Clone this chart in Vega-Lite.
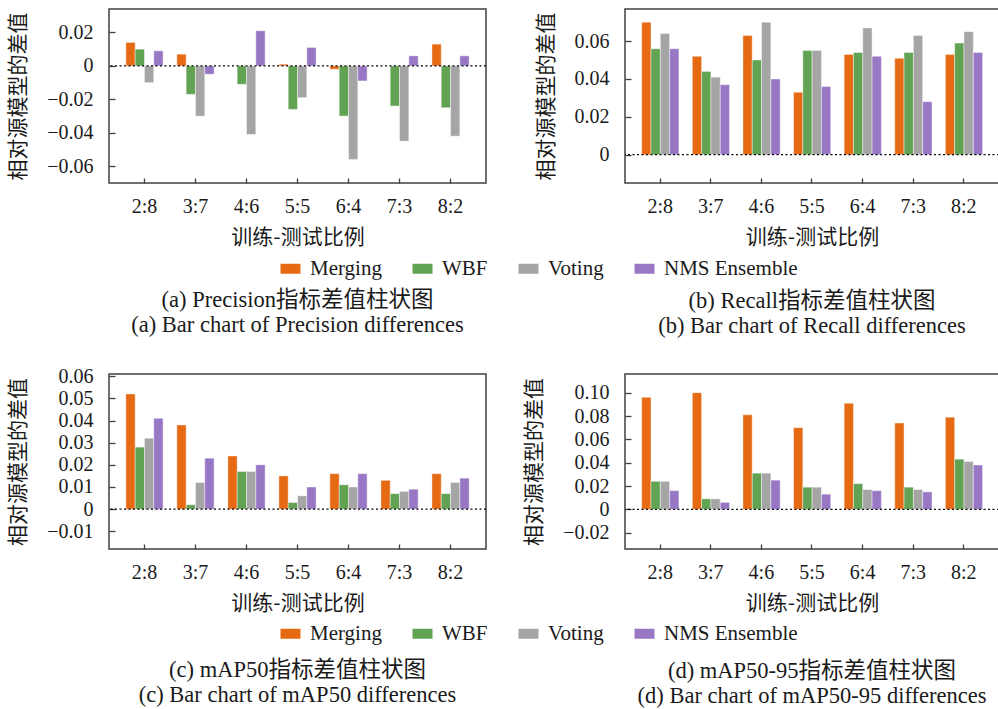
{
  "$schema": "https://vega.github.io/schema/vega-lite/v6.json",
  "padding": {"left": 6, "top": 8, "right": 2, "bottom": 2},
  "datasets": {
    "d": [
      {"metric": "Precision", "ratio": "2:8", "method": "Merging", "value": 0.014},
      {"metric": "Precision", "ratio": "2:8", "method": "WBF", "value": 0.010},
      {"metric": "Precision", "ratio": "2:8", "method": "Voting", "value": -0.010},
      {"metric": "Precision", "ratio": "2:8", "method": "NMS Ensemble", "value": 0.009},
      {"metric": "Precision", "ratio": "3:7", "method": "Merging", "value": 0.007},
      {"metric": "Precision", "ratio": "3:7", "method": "WBF", "value": -0.017},
      {"metric": "Precision", "ratio": "3:7", "method": "Voting", "value": -0.030},
      {"metric": "Precision", "ratio": "3:7", "method": "NMS Ensemble", "value": -0.005},
      {"metric": "Precision", "ratio": "4:6", "method": "Merging", "value": 0.000},
      {"metric": "Precision", "ratio": "4:6", "method": "WBF", "value": -0.011},
      {"metric": "Precision", "ratio": "4:6", "method": "Voting", "value": -0.041},
      {"metric": "Precision", "ratio": "4:6", "method": "NMS Ensemble", "value": 0.021},
      {"metric": "Precision", "ratio": "5:5", "method": "Merging", "value": 0.001},
      {"metric": "Precision", "ratio": "5:5", "method": "WBF", "value": -0.026},
      {"metric": "Precision", "ratio": "5:5", "method": "Voting", "value": -0.019},
      {"metric": "Precision", "ratio": "5:5", "method": "NMS Ensemble", "value": 0.011},
      {"metric": "Precision", "ratio": "6:4", "method": "Merging", "value": -0.002},
      {"metric": "Precision", "ratio": "6:4", "method": "WBF", "value": -0.030},
      {"metric": "Precision", "ratio": "6:4", "method": "Voting", "value": -0.056},
      {"metric": "Precision", "ratio": "6:4", "method": "NMS Ensemble", "value": -0.009},
      {"metric": "Precision", "ratio": "7:3", "method": "Merging", "value": 0.000},
      {"metric": "Precision", "ratio": "7:3", "method": "WBF", "value": -0.024},
      {"metric": "Precision", "ratio": "7:3", "method": "Voting", "value": -0.045},
      {"metric": "Precision", "ratio": "7:3", "method": "NMS Ensemble", "value": 0.006},
      {"metric": "Precision", "ratio": "8:2", "method": "Merging", "value": 0.013},
      {"metric": "Precision", "ratio": "8:2", "method": "WBF", "value": -0.025},
      {"metric": "Precision", "ratio": "8:2", "method": "Voting", "value": -0.042},
      {"metric": "Precision", "ratio": "8:2", "method": "NMS Ensemble", "value": 0.006},

      {"metric": "Recall", "ratio": "2:8", "method": "Merging", "value": 0.070},
      {"metric": "Recall", "ratio": "2:8", "method": "WBF", "value": 0.056},
      {"metric": "Recall", "ratio": "2:8", "method": "Voting", "value": 0.064},
      {"metric": "Recall", "ratio": "2:8", "method": "NMS Ensemble", "value": 0.056},
      {"metric": "Recall", "ratio": "3:7", "method": "Merging", "value": 0.052},
      {"metric": "Recall", "ratio": "3:7", "method": "WBF", "value": 0.044},
      {"metric": "Recall", "ratio": "3:7", "method": "Voting", "value": 0.041},
      {"metric": "Recall", "ratio": "3:7", "method": "NMS Ensemble", "value": 0.037},
      {"metric": "Recall", "ratio": "4:6", "method": "Merging", "value": 0.063},
      {"metric": "Recall", "ratio": "4:6", "method": "WBF", "value": 0.050},
      {"metric": "Recall", "ratio": "4:6", "method": "Voting", "value": 0.070},
      {"metric": "Recall", "ratio": "4:6", "method": "NMS Ensemble", "value": 0.040},
      {"metric": "Recall", "ratio": "5:5", "method": "Merging", "value": 0.033},
      {"metric": "Recall", "ratio": "5:5", "method": "WBF", "value": 0.055},
      {"metric": "Recall", "ratio": "5:5", "method": "Voting", "value": 0.055},
      {"metric": "Recall", "ratio": "5:5", "method": "NMS Ensemble", "value": 0.036},
      {"metric": "Recall", "ratio": "6:4", "method": "Merging", "value": 0.053},
      {"metric": "Recall", "ratio": "6:4", "method": "WBF", "value": 0.054},
      {"metric": "Recall", "ratio": "6:4", "method": "Voting", "value": 0.067},
      {"metric": "Recall", "ratio": "6:4", "method": "NMS Ensemble", "value": 0.052},
      {"metric": "Recall", "ratio": "7:3", "method": "Merging", "value": 0.051},
      {"metric": "Recall", "ratio": "7:3", "method": "WBF", "value": 0.054},
      {"metric": "Recall", "ratio": "7:3", "method": "Voting", "value": 0.063},
      {"metric": "Recall", "ratio": "7:3", "method": "NMS Ensemble", "value": 0.028},
      {"metric": "Recall", "ratio": "8:2", "method": "Merging", "value": 0.053},
      {"metric": "Recall", "ratio": "8:2", "method": "WBF", "value": 0.059},
      {"metric": "Recall", "ratio": "8:2", "method": "Voting", "value": 0.065},
      {"metric": "Recall", "ratio": "8:2", "method": "NMS Ensemble", "value": 0.054},

      {"metric": "mAP50", "ratio": "2:8", "method": "Merging", "value": 0.052},
      {"metric": "mAP50", "ratio": "2:8", "method": "WBF", "value": 0.028},
      {"metric": "mAP50", "ratio": "2:8", "method": "Voting", "value": 0.032},
      {"metric": "mAP50", "ratio": "2:8", "method": "NMS Ensemble", "value": 0.041},
      {"metric": "mAP50", "ratio": "3:7", "method": "Merging", "value": 0.038},
      {"metric": "mAP50", "ratio": "3:7", "method": "WBF", "value": 0.002},
      {"metric": "mAP50", "ratio": "3:7", "method": "Voting", "value": 0.012},
      {"metric": "mAP50", "ratio": "3:7", "method": "NMS Ensemble", "value": 0.023},
      {"metric": "mAP50", "ratio": "4:6", "method": "Merging", "value": 0.024},
      {"metric": "mAP50", "ratio": "4:6", "method": "WBF", "value": 0.017},
      {"metric": "mAP50", "ratio": "4:6", "method": "Voting", "value": 0.017},
      {"metric": "mAP50", "ratio": "4:6", "method": "NMS Ensemble", "value": 0.020},
      {"metric": "mAP50", "ratio": "5:5", "method": "Merging", "value": 0.015},
      {"metric": "mAP50", "ratio": "5:5", "method": "WBF", "value": 0.003},
      {"metric": "mAP50", "ratio": "5:5", "method": "Voting", "value": 0.006},
      {"metric": "mAP50", "ratio": "5:5", "method": "NMS Ensemble", "value": 0.010},
      {"metric": "mAP50", "ratio": "6:4", "method": "Merging", "value": 0.016},
      {"metric": "mAP50", "ratio": "6:4", "method": "WBF", "value": 0.011},
      {"metric": "mAP50", "ratio": "6:4", "method": "Voting", "value": 0.010},
      {"metric": "mAP50", "ratio": "6:4", "method": "NMS Ensemble", "value": 0.016},
      {"metric": "mAP50", "ratio": "7:3", "method": "Merging", "value": 0.013},
      {"metric": "mAP50", "ratio": "7:3", "method": "WBF", "value": 0.007},
      {"metric": "mAP50", "ratio": "7:3", "method": "Voting", "value": 0.008},
      {"metric": "mAP50", "ratio": "7:3", "method": "NMS Ensemble", "value": 0.009},
      {"metric": "mAP50", "ratio": "8:2", "method": "Merging", "value": 0.016},
      {"metric": "mAP50", "ratio": "8:2", "method": "WBF", "value": 0.007},
      {"metric": "mAP50", "ratio": "8:2", "method": "Voting", "value": 0.012},
      {"metric": "mAP50", "ratio": "8:2", "method": "NMS Ensemble", "value": 0.014},

      {"metric": "mAP50-95", "ratio": "2:8", "method": "Merging", "value": 0.096},
      {"metric": "mAP50-95", "ratio": "2:8", "method": "WBF", "value": 0.024},
      {"metric": "mAP50-95", "ratio": "2:8", "method": "Voting", "value": 0.024},
      {"metric": "mAP50-95", "ratio": "2:8", "method": "NMS Ensemble", "value": 0.016},
      {"metric": "mAP50-95", "ratio": "3:7", "method": "Merging", "value": 0.100},
      {"metric": "mAP50-95", "ratio": "3:7", "method": "WBF", "value": 0.009},
      {"metric": "mAP50-95", "ratio": "3:7", "method": "Voting", "value": 0.009},
      {"metric": "mAP50-95", "ratio": "3:7", "method": "NMS Ensemble", "value": 0.006},
      {"metric": "mAP50-95", "ratio": "4:6", "method": "Merging", "value": 0.081},
      {"metric": "mAP50-95", "ratio": "4:6", "method": "WBF", "value": 0.031},
      {"metric": "mAP50-95", "ratio": "4:6", "method": "Voting", "value": 0.031},
      {"metric": "mAP50-95", "ratio": "4:6", "method": "NMS Ensemble", "value": 0.025},
      {"metric": "mAP50-95", "ratio": "5:5", "method": "Merging", "value": 0.070},
      {"metric": "mAP50-95", "ratio": "5:5", "method": "WBF", "value": 0.019},
      {"metric": "mAP50-95", "ratio": "5:5", "method": "Voting", "value": 0.019},
      {"metric": "mAP50-95", "ratio": "5:5", "method": "NMS Ensemble", "value": 0.013},
      {"metric": "mAP50-95", "ratio": "6:4", "method": "Merging", "value": 0.091},
      {"metric": "mAP50-95", "ratio": "6:4", "method": "WBF", "value": 0.022},
      {"metric": "mAP50-95", "ratio": "6:4", "method": "Voting", "value": 0.017},
      {"metric": "mAP50-95", "ratio": "6:4", "method": "NMS Ensemble", "value": 0.016},
      {"metric": "mAP50-95", "ratio": "7:3", "method": "Merging", "value": 0.074},
      {"metric": "mAP50-95", "ratio": "7:3", "method": "WBF", "value": 0.019},
      {"metric": "mAP50-95", "ratio": "7:3", "method": "Voting", "value": 0.017},
      {"metric": "mAP50-95", "ratio": "7:3", "method": "NMS Ensemble", "value": 0.015},
      {"metric": "mAP50-95", "ratio": "8:2", "method": "Merging", "value": 0.079},
      {"metric": "mAP50-95", "ratio": "8:2", "method": "WBF", "value": 0.043},
      {"metric": "mAP50-95", "ratio": "8:2", "method": "Voting", "value": 0.041},
      {"metric": "mAP50-95", "ratio": "8:2", "method": "NMS Ensemble", "value": 0.038}
    ]
  },
  "columns": 2,
  "bounds": "flush",
  "spacing": {"row": 191, "column": 139},
  "resolve": {"scale": {"color": "independent", "x": "independent", "y": "independent"}},
  "concat": [
    {
      "width": 377, "height": 174,
      "title": {"text": ["(a) Precision指标差值柱状图", "(a) Bar chart of Precision differences"], "offset": 10},
      "layer": [
        {
          "data": {"name": "d"},
          "transform": [{"filter": "datum.metric === 'Precision'"}],
          "mark": {"type": "bar", "stroke": "#ffffff", "strokeWidth": 0.6, "strokeOpacity": 0.7},
          "encoding": {
            "x": {"field": "ratio", "type": "nominal", "sort": ["2:8", "3:7", "4:6", "5:5", "6:4", "7:3", "8:2"], "scale": {"paddingInner": 0.27, "paddingOuter": 0.33}, "axis": {"title": "训练-测试比例"}},
            "xOffset": {"field": "method", "type": "nominal", "sort": ["Merging", "WBF", "Voting", "NMS Ensemble"], "scale": {"paddingInner": 0}},
            "y": {"field": "value", "type": "quantitative", "scale": {"domain": [-0.07, 0.034], "nice": false, "zero": false}, "axis": {"title": "相对源模型的差值", "values": [-0.06, -0.04, -0.02, 0, 0.02], "labelOverlap": false, "tickCount": 20}},
            "color": {"field": "method", "type": "nominal", "sort": ["Merging", "WBF", "Voting", "NMS Ensemble"], "scale": {"domain": ["Merging", "WBF", "Voting", "NMS Ensemble"], "range": ["#E66A14", "#62A353", "#A5A5A5", "#9878C4"]}, "legend": {"orient": "none", "direction": "horizontal", "legendX": 171, "legendY": 249, "title": null}}
          }
        },
        {
          "data": {"values": [{}]},
          "mark": {"type": "rule", "strokeDash": [2, 2.5], "color": "#000000", "strokeWidth": 1.2},
          "encoding": {"y": {"datum": 0}}
        }
      ]
    },
    {
      "width": 374, "height": 174,
      "title": {"text": ["(b) Recall指标差值柱状图", "(b) Bar chart of Recall differences"], "offset": 42.5},
      "layer": [
        {
          "data": {"name": "d"},
          "transform": [{"filter": "datum.metric === 'Recall'"}],
          "mark": {"type": "bar", "stroke": "#ffffff", "strokeWidth": 0.6, "strokeOpacity": 0.7},
          "encoding": {
            "x": {"field": "ratio", "type": "nominal", "sort": ["2:8", "3:7", "4:6", "5:5", "6:4", "7:3", "8:2"], "scale": {"paddingInner": 0.27, "paddingOuter": 0.33}, "axis": {"title": "训练-测试比例"}},
            "xOffset": {"field": "method", "type": "nominal", "sort": ["Merging", "WBF", "Voting", "NMS Ensemble"], "scale": {"paddingInner": 0}},
            "y": {"field": "value", "type": "quantitative", "scale": {"domain": [-0.015, 0.077], "nice": false, "zero": false}, "axis": {"title": "相对源模型的差值", "values": [0, 0.02, 0.04, 0.06], "labelOverlap": false, "tickCount": 20}},
            "color": {"field": "method", "type": "nominal", "sort": ["Merging", "WBF", "Voting", "NMS Ensemble"], "scale": {"domain": ["Merging", "WBF", "Voting", "NMS Ensemble"], "range": ["#E66A14", "#62A353", "#A5A5A5", "#9878C4"]}, "legend": null}
          }
        },
        {
          "data": {"values": [{}]},
          "mark": {"type": "rule", "strokeDash": [2, 2.5], "color": "#000000", "strokeWidth": 1.2},
          "encoding": {"y": {"datum": 0}}
        }
      ]
    },
    {
      "width": 377, "height": 175,
      "title": {"text": ["(c) mAP50指标差值柱状图", "(c) Bar chart of mAP50 differences"], "offset": 15},
      "layer": [
        {
          "data": {"name": "d"},
          "transform": [{"filter": "datum.metric === 'mAP50'"}],
          "mark": {"type": "bar", "stroke": "#ffffff", "strokeWidth": 0.6, "strokeOpacity": 0.7},
          "encoding": {
            "x": {"field": "ratio", "type": "nominal", "sort": ["2:8", "3:7", "4:6", "5:5", "6:4", "7:3", "8:2"], "scale": {"paddingInner": 0.27, "paddingOuter": 0.33}, "axis": {"title": "训练-测试比例"}},
            "xOffset": {"field": "method", "type": "nominal", "sort": ["Merging", "WBF", "Voting", "NMS Ensemble"], "scale": {"paddingInner": 0}},
            "y": {"field": "value", "type": "quantitative", "scale": {"domain": [-0.018, 0.061], "nice": false, "zero": false}, "axis": {"title": "相对源模型的差值", "values": [-0.01, 0, 0.01, 0.02, 0.03, 0.04, 0.05, 0.06], "labelOverlap": false, "tickCount": 20}},
            "color": {"field": "method", "type": "nominal", "sort": ["Merging", "WBF", "Voting", "NMS Ensemble"], "scale": {"domain": ["Merging", "WBF", "Voting", "NMS Ensemble"], "range": ["#E66A14", "#62A353", "#A5A5A5", "#9878C4"]}, "legend": {"orient": "none", "direction": "horizontal", "legendX": 171, "legendY": 249, "title": null}}
          }
        },
        {
          "data": {"values": [{}]},
          "mark": {"type": "rule", "strokeDash": [2, 2.5], "color": "#000000", "strokeWidth": 1.2},
          "encoding": {"y": {"datum": 0}}
        }
      ]
    },
    {
      "width": 374, "height": 175,
      "title": {"text": ["(d) mAP50-95指标差值柱状图", "(d) Bar chart of mAP50-95 differences"], "offset": 47},
      "layer": [
        {
          "data": {"name": "d"},
          "transform": [{"filter": "datum.metric === 'mAP50-95'"}],
          "mark": {"type": "bar", "stroke": "#ffffff", "strokeWidth": 0.6, "strokeOpacity": 0.7},
          "encoding": {
            "x": {"field": "ratio", "type": "nominal", "sort": ["2:8", "3:7", "4:6", "5:5", "6:4", "7:3", "8:2"], "scale": {"paddingInner": 0.27, "paddingOuter": 0.33}, "axis": {"title": "训练-测试比例"}},
            "xOffset": {"field": "method", "type": "nominal", "sort": ["Merging", "WBF", "Voting", "NMS Ensemble"], "scale": {"paddingInner": 0}},
            "y": {"field": "value", "type": "quantitative", "scale": {"domain": [-0.034, 0.116], "nice": false, "zero": false}, "axis": {"title": "相对源模型的差值", "values": [-0.02, 0, 0.02, 0.04, 0.06, 0.08, 0.1], "labelOverlap": false, "tickCount": 20}},
            "color": {"field": "method", "type": "nominal", "sort": ["Merging", "WBF", "Voting", "NMS Ensemble"], "scale": {"domain": ["Merging", "WBF", "Voting", "NMS Ensemble"], "range": ["#E66A14", "#62A353", "#A5A5A5", "#9878C4"]}, "legend": null}
          }
        },
        {
          "data": {"values": [{}]},
          "mark": {"type": "rule", "strokeDash": [2, 2.5], "color": "#000000", "strokeWidth": 1.2},
          "encoding": {"y": {"datum": 0}}
        }
      ]
    }
  ],
  "config": {
    "font": "Liberation Serif, Noto Sans CJK SC",
    "view": {"stroke": "#404040", "strokeWidth": 1.5},
    "axis": {
      "grid": false, "domain": false, "labelOverlap": false,
      "labelFont": "Liberation Serif", "labelFontSize": 20, "labelColor": "#1a1a1a",
      "titleFont": "Noto Sans CJK SC", "titleFontSize": 21, "titleFontWeight": "normal", "titleColor": "#1a1a1a",
      "tickColor": "#404040", "tickWidth": 1.3
    },
    "axisX": {"offset": -5, "tickSize": 5, "labelPadding": 13, "labelAngle": 0, "titlePadding": 10},
    "axisY": {"offset": -6, "tickSize": 6, "labelPadding": 16, "titlePadding": 18, "labelExpr": "datum.value === 0 ? '0' : replace(format(datum.value, '.2f'), '-', '−')"},
    "legend": {
      "labelFont": "Liberation Serif", "labelFontSize": 21, "labelColor": "#1a1a1a",
      "symbolType": "M-1,-0.5H1V0.5H-1Z", "symbolSize": 400, "symbolStrokeWidth": 0,
      "columnPadding": 30, "labelOffset": 9
    },
    "title": {
      "orient": "bottom", "anchor": "middle", "frame": "group",
      "font": "Liberation Serif, Noto Sans CJK SC", "fontSize": 22.5, "fontWeight": "normal", "color": "#1a1a1a", "lineHeight": 25
    }
  }
}
